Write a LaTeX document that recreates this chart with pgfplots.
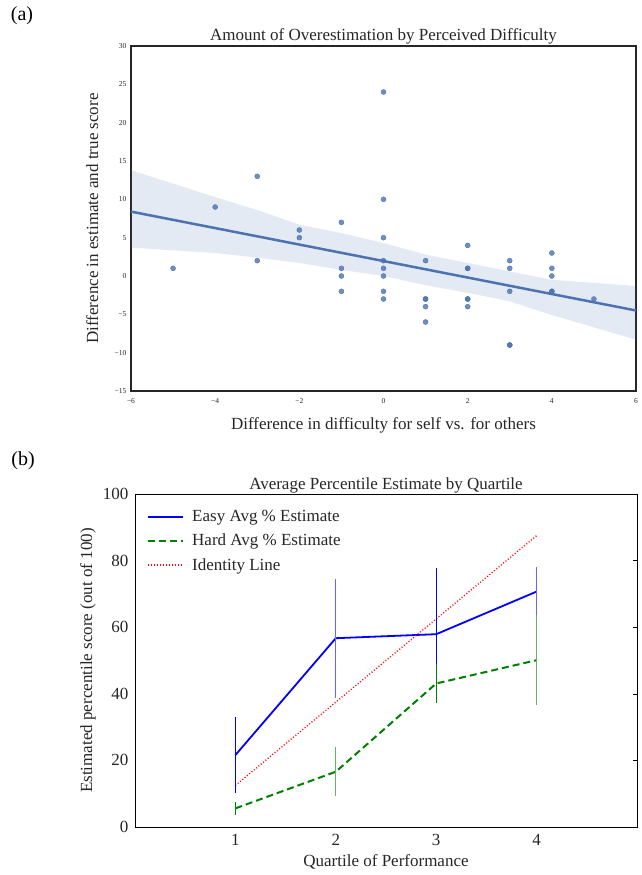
\documentclass[border=0pt]{standalone}
\usepackage{fontspec}
\setmainfont{Liberation Serif}
\usepackage{pgfplots}
\pgfplotsset{compat=1.18}
\definecolor{sbblue}{HTML}{4C72B0}
\definecolor{txtgray}{HTML}{262626}
\definecolor{mgreen}{rgb}{0,0.5,0}
\newcommand{\bigtxt}{\fontsize{17}{19.5}\selectfont}
\pgfplotsset{ebar/.style={line width=1.2pt, forget plot, mark=none,
  error bars/.cd, y dir=both, y explicit, error mark=none, error bar style={solid, line width=1.2pt}}}
\begin{document}
\begin{tikzpicture}
\node[anchor=center, font=\fontsize{20}{24}\selectfont] at (22pt,-16pt) {(a)};
\node[anchor=center, font=\fontsize{20}{24}\selectfont] at (23pt,-461pt) {(b)};
% ---------------- panel (a)
\begin{axis}[
  at={(131pt,-391pt)}, anchor=south west,
  scale only axis, width=505pt, height=345pt,
  xmin=-6, xmax=6, ymin=-15, ymax=30,
  xtick={-6,-4,...,6}, xticklabels={−6,−4,−2,0,2,4,6},
  ytick={-15,-10,...,30}, yticklabels={−15,−10,−5,0,5,10,15,20,25,30},
  major tick length=0pt,
  axis line style={draw=txtgray, line width=1.2pt},
  tick label style={font=\fontsize{7.5}{9}\selectfont, text=txtgray},
  yticklabel style={xshift=-1pt},
  xticklabel style={yshift=-4pt},
  every axis title shift=0pt,
  title={Amount of Overestimation by Perceived Difficulty},
  title style={at={(axis description cs:0.5,1.017)}, anchor=base, font=\bigtxt, text=txtgray},
  xlabel={Difference in difficulty for self vs. for others},
  xlabel style={at={(axis description cs:0.5,-0.113)}, anchor=base, font=\bigtxt, text=txtgray},
  ylabel={Difference in estimate and true score},
  ylabel style={at={(axis description cs:-0.077,0.5)}, anchor=center, font=\bigtxt, text=txtgray},
]
\addplot[fill=sbblue, fill opacity=0.15, draw=none, forget plot] coordinates {
 (-6,13.8) (-4,10.3) (-3,8.6) (-2,6.7) (-1,5.6) (0,4.3) (1,2.8) (2,1.7) (3,0.6) (4,-0.5) (5,-0.9) (6,-1.3)
 (6,-8.3) (5,-6.7) (4,-5.1) (3,-3.3) (2,-2.2) (1,-1.2) (0,0.0) (-1,0.8) (-2,1.7) (-3,2.4) (-4,3.0) (-6,3.7)} -- cycle;
\addplot[color=sbblue, only marks, mark=*, mark size=2.5pt, mark options={fill=sbblue, draw=none, fill opacity=0.8}] coordinates {
 (-5,1) (-4,9) (-3,13) (-3,2) (-2,6) (-2,5) (-1,7) (-1,1) (-1,0) (-1,-2)
 (0,24) (0,10) (0,5) (0,2) (0,1) (0,0) (0,-2) (0,-3)
 (1,2) (1,-3) (1,-3) (1,-4) (1,-6)
 (2,4) (2,1) (2,1) (2,-3) (2,-3) (2,-4)
 (3,2) (3,1) (3,-2) (3,-9) (3,-9)
 (4,3) (4,1) (4,0) (4,-2) (4,-2) (5,-3)};
\addplot[sbblue, line width=2.5pt] coordinates {(-6,8.4) (6,-4.5)};
\end{axis}
% ---------------- panel (b)
\begin{axis}[
  at={(135pt,-827pt)}, anchor=south west,
  scale only axis, width=502pt, height=333pt,
  xmin=0, xmax=5, ymin=0, ymax=100,
  xtick={1,2,3,4}, ytick={0,20,...,100},
  xtick style={draw=none},
  ytick pos=right, yticklabel pos=left,
  tick align=inside, major tick length=4pt,
  ytick style={black, line width=0.6pt},
  axis line style={black, line width=1pt},
  tick label style={font=\bigtxt, text=txtgray},
  /pgf/number format/assume math mode=true,
  yticklabel style={xshift=-3pt},
  xticklabel style={yshift=-4pt},
  every axis title shift=0pt,
  title={Average Percentile Estimate by Quartile},
  title style={at={(axis description cs:0.5,1.015)}, anchor=base, font=\bigtxt, text=txtgray},
  xlabel={Quartile of Performance},
  xlabel style={at={(axis description cs:0.5,-0.12)}, anchor=base, font=\bigtxt, text=txtgray},
  ylabel={Estimated percentile score (out of 100)},
  ylabel style={at={(axis description cs:-0.0936,0.5)}, anchor=center, font=\bigtxt, text=txtgray},
  legend cell align=left,
  legend style={at={(axis description cs:0,1)}, anchor=north west, xshift=9pt, yshift=-12pt,
    draw=none, fill=none, font=\bigtxt, text=txtgray, row sep=7pt, column sep=6pt},
  legend image code/.code={\draw[#1] (0pt,0pt) -- (35pt,0pt);},
]
\addplot[blue, line width=1.8pt] coordinates {(1,21.6) (2,56.7) (3,57.9) (4,70.7)};
\addlegendentry{Easy Avg \% Estimate}
\addplot[mgreen, line width=2pt, dash pattern=on 7pt off 4pt] coordinates {(1,5.6) (2,16.6) (3,43.1) (4,50.1)};
\addlegendentry{Hard Avg \% Estimate}
\addplot[red, line width=1.3pt, dash pattern=on 1pt off 2pt] coordinates {(1,12.5) (2,37.5) (3,62.5) (4,87.5)};
\addlegendentry{Identity Line}
% error bars (one point per plot)
\addplot[blue, ebar] coordinates {(1,21.6) +- (0,11.3)};
\addplot[blue!60!white, ebar] coordinates {(2,56.7) +- (0,17.9)};
\addplot[blue, ebar] coordinates {(3,57.9) +- (0,20)};
\addplot[blue!60!white, ebar] coordinates {(4,70.7) +- (0,7.3)};
\addplot[mgreen, ebar] coordinates {(1,5.6) +- (0,2)};
\addplot[mgreen!60!white, ebar] coordinates {(2,16.6) +- (0,7.4)};
\addplot[mgreen, ebar] coordinates {(3,43.1) +- (0,6)};
\addplot[mgreen!60!white, ebar] coordinates {(4,50.1) +- (0,13.5)};
\end{axis}
\path (0pt,0pt) rectangle (641pt,-875pt);
\end{tikzpicture}
\end{document}
